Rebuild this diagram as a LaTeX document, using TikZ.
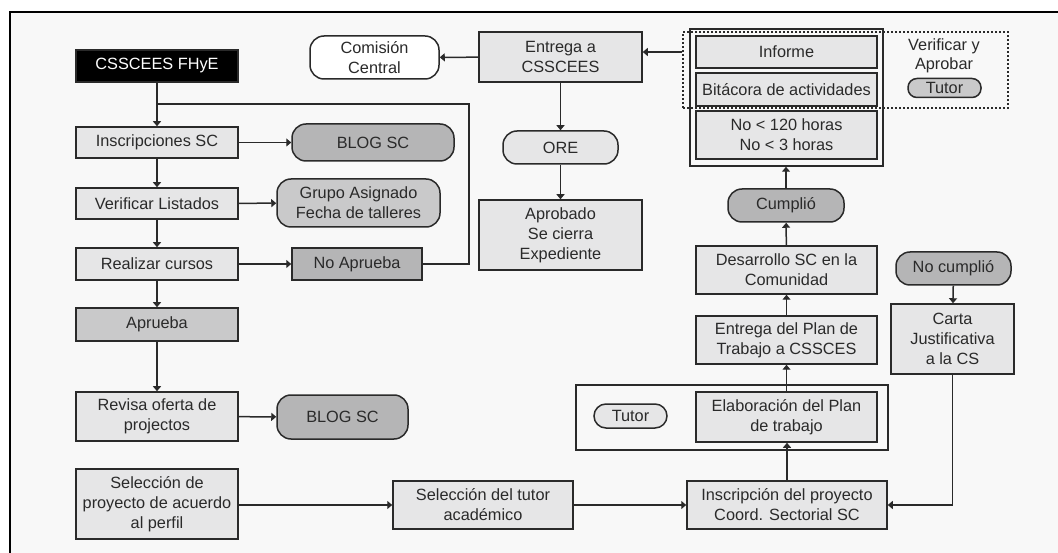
\documentclass[tikz,border=0pt]{standalone}
\usepackage{fontspec}
\setmainfont{Liberation Sans}
\usetikzlibrary{arrows.meta, positioning, calc}

\definecolor{bgpaper}{HTML}{F8F8F8}
\definecolor{boxlight}{HTML}{E6E6E7}
\definecolor{boxmid}{HTML}{C9C9CA}
\definecolor{boxdark}{HTML}{B5B5B6}
\definecolor{inkgray}{HTML}{2A2A2A}

\tikzset{
  flowbox/.style={draw=inkgray, line width=1.5pt, fill=boxlight, text=inkgray, align=center,
    inner sep=0pt, font=\fontsize{16.3}{20}\selectfont},
  pill/.style={flowbox, rounded corners=#1},
  pill/.default=14pt,
  groupframe/.style={draw=inkgray, line width=1.5pt, inner sep=0pt},
  flowline/.style={draw=inkgray, line width=1.5pt},
  flowarrow/.style={flowline, -{Triangle[length=5pt,width=8pt]}},
}

\begin{document}
\begin{tikzpicture}[x=1pt, y=-1pt]
  % Page and frame
  \useasboundingbox (0,0) rectangle (1058,553);
  \fill[white] (0,0) rectangle (1058,553);
  \draw[line width=2.4pt, fill=bgpaper] (10,12) rectangle (1080,580);

  % Left column
  \node[flowbox, fill=black, text=white, minimum width=162, minimum height=32] (fhye) at (157,66) {CSSCEES FHyE};
  \node[flowbox, minimum width=162, minimum height=31] (insc) at (157,142.5) {Inscripciones SC};
  \node[flowbox, minimum width=162, minimum height=31] (verif) at (157,203.5) {Verificar Listados};
  \node[flowbox, minimum width=162, minimum height=32] (realiz) at (157,264) {Realizar cursos};
  \node[flowbox, fill=boxmid, minimum width=162, minimum height=33] (aprueba) at (157,324.5) {Aprueba};
  \node[flowbox, minimum width=162, minimum height=49] (revisa) at (157,416.5) {Revisa oferta de\\projectos};
  \node[flowbox, minimum width=162, minimum height=70] (selproy) at (157,504) {Selección de\\proyecto de acuerdo\\al perfil};

  % Second column
  \node[pill, fill=boxdark, minimum width=162, minimum height=37] (blogA) at (373,142.5) {BLOG SC};
  \node[pill, fill=boxmid, minimum width=163, minimum height=48] (grupo) at (358.5,203) {Grupo Asignado\\Fecha de talleres};
  \node[flowbox, fill=boxdark, minimum width=130, minimum height=32] (noaprueba) at (357,264) {No Aprueba};
  \node[pill, fill=boxdark, minimum width=131, minimum height=44] (blogB) at (342.5,417) {BLOG SC};
  \node[pill, fill=white, minimum width=129, minimum height=43] (comision) at (374.5,57.5) {Comisión\\Central};
  \node[flowbox, minimum width=180, minimum height=48] (seltutor) at (483,505) {Selección del tutor\\académico};

  % Middle column
  \node[flowbox, minimum width=163, minimum height=50] (entrega) at (560.5,57) {Entrega a\\CSSCEES};
  \node[pill, minimum width=115, minimum height=33] (ore) at (560.5,147.5) {ORE};
  \node[flowbox, minimum width=163, minimum height=70] (aprobado) at (560.5,235) {Aprobado\\Se cierra\\Expediente};

  % Right column
  \node[groupframe, minimum width=193, minimum height=137] (infogroup) at (786.5,97.5) {};
  \node[flowbox, minimum width=181, minimum height=32] (informe) at (786.5,52) {Informe};
  \node[flowbox, minimum width=181, minimum height=33] (bitacora) at (786.5,89.5) {Bitácora de actividades};
  \node[flowbox, minimum width=181, minimum height=48] (horas) at (786.5,135) {No < 120 horas\\No < 3 horas};
  \node[groupframe, dash pattern=on 2pt off 2pt, line width=1.2pt, minimum width=325, minimum height=76] (verifbox) at (845.5,70) {};
  \node[text=inkgray, align=center, font=\fontsize{16.3}{19}\selectfont] (verifapr) at (944,56) {Verificar y\\Aprobar};
  \node[pill=9pt, fill=boxmid, minimum width=73, minimum height=19] (tutorA) at (944.5,88) {Tutor};
  \node[pill, fill=boxdark, minimum width=116, minimum height=33] (cumplio) at (786,205.5) {Cumplió};
  \node[flowbox, minimum width=181, minimum height=48] (desarr) at (786.5,270) {Desarrollo SC en la\\Comunidad};
  \node[flowbox, minimum width=181, minimum height=48] (entplan) at (786.5,340) {Entrega del Plan de\\Trabajo a CSSCES};
  \node[groupframe, minimum width=312, minimum height=65] (planframe) at (732,417.5) {};
  \node[pill=12pt, fill=boxlight, minimum width=73, minimum height=24] (tutorB) at (630.5,416) {Tutor};
  \node[flowbox, minimum width=181, minimum height=50] (elab) at (786.5,417) {Elaboración del Plan\\de trabajo};
  \node[flowbox, minimum width=200, minimum height=48] (inscproy) at (787,505) {Inscripción del proyecto\\Coord. Sectorial SC};
  \node[pill, fill=boxdark, minimum width=115, minimum height=33] (nocumplio) at (953.5,268.5) {No cumplió};
  \node[flowbox, minimum width=123, minimum height=70] (carta) at (952.5,339) {Carta\\Justificativa\\a la CS};

  % Connectors, left side
  \coordinate (loopcorner) at (469,104);
  \draw[flowarrow] (fhye) -- (insc);
  \draw[flowline] (noaprueba.east) -| (loopcorner) -- (fhye.south |- loopcorner);
  \draw[flowarrow] (insc) -- (verif);
  \draw[flowarrow] (verif) -- (realiz);
  \draw[flowarrow] (realiz) -- (aprueba);
  \draw[flowarrow] (aprueba) -- (revisa);
  \draw[flowarrow] (insc) -- (blogA);
  \draw[flowarrow] (verif) -- (grupo);
  \draw[flowarrow] (realiz) -- (noaprueba);
  \draw[flowarrow] (revisa) -- (blogB);
  \draw[flowarrow] (selproy.east |- seltutor) -- (seltutor);
  \draw[flowarrow] (seltutor) -- (inscproy);

  % Connectors, top
  \draw[flowarrow] (verifbox.west |- informe) -- (entrega.east |- informe);
  \draw[flowarrow] (entrega) -- (comision);
  \draw[flowarrow] (entrega) -- (ore);
  \draw[flowarrow] (ore) -- (aprobado);

  % Connectors, right side
  \draw[flowarrow] (inscproy.north) -- (inscproy.north |- elab.south);
  \draw[flowarrow] (elab.north) -- (elab.north |- entplan.south);
  \draw[flowarrow] (entplan) -- (desarr);
  \draw[flowarrow] (desarr) -- (cumplio);
  \draw[flowarrow] (cumplio.north) -- (cumplio.north |- infogroup.south);
  \draw[flowarrow] (nocumplio) -- (carta);
  \draw[flowarrow] (carta.south) |- (inscproy.east);
\end{tikzpicture}
\end{document}
